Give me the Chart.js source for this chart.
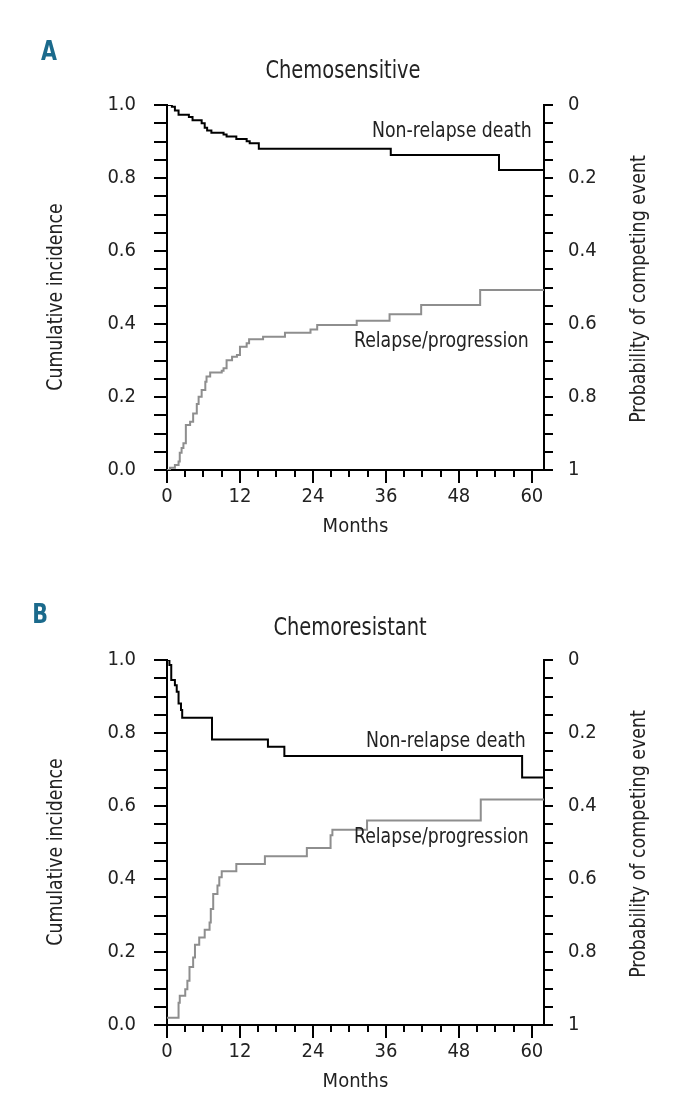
<!DOCTYPE html>
<html><head><meta charset="utf-8">
<script src="https://cdn.jsdelivr.net/npm/chart.js@4/dist/chart.umd.min.js"></script>
<style>
html,body{margin:0;padding:0;background:#fff;}
body{width:694px;height:1110px;position:relative;overflow:hidden;}
canvas{position:absolute;left:0;display:block;}
</style></head><body>
<canvas id="cA" width="694" height="555" style="top:0"></canvas>
<canvas id="cB" width="694" height="555" style="top:555px"></canvas>
<script>
// ---- tick labels ----
const monthTickLabels = [0, 12, 24, 36, 48, 60];
const leftTickLabels = ['0.0', '0.2', '0.4', '0.6', '0.8', '1.0'];
const rightTickLabels = ['0', '0.2', '0.4', '0.6', '0.8', '1'];

// ---- Panel A: Chemosensitive ----
const aDeathMonths = [0, 0.8, 1.3, 1.9, 3.6, 4.2, 5.7, 6.2, 6.6, 7.3, 9.3, 9.8, 11.4, 13.1, 13.6, 15.1, 36.8, 54.6, 62];
const aDeathProb   = [0, 0.005, 0.015, 0.027, 0.033, 0.042, 0.05, 0.062, 0.07, 0.076, 0.081, 0.086, 0.093, 0.099, 0.105, 0.12, 0.137, 0.178, 0.178];
const aRelapseMonths = [0, 0.5, 1.3, 1.9, 2.1, 2.4, 2.7, 3.1, 3.8, 4.3, 4.9, 5.2, 5.7, 6.3, 6.5, 7.1, 9.0, 9.3, 9.8, 10.7, 11.5, 12.0, 13.1, 13.5, 15.8, 19.4, 23.6, 24.7, 31.2, 36.6, 41.8, 51.5, 62];
const aRelapseInc    = [0, 0.006, 0.014, 0.023, 0.047, 0.06, 0.073, 0.123, 0.132, 0.155, 0.181, 0.201, 0.219, 0.242, 0.256, 0.267, 0.272, 0.279, 0.301, 0.31, 0.315, 0.338, 0.347, 0.358, 0.365, 0.376, 0.385, 0.397, 0.409, 0.427, 0.452, 0.493, 0.493];

// ---- Panel B: Chemoresistant ----
const bDeathMonths = [0, 0.4, 0.7, 1.3, 1.6, 1.9, 2.3, 2.5, 7.4, 16.6, 19.3, 58.4, 62];
const bDeathProb   = [0, 0.014, 0.055, 0.069, 0.087, 0.119, 0.137, 0.158, 0.218, 0.238, 0.263, 0.322, 0.322];
const bRelapseMonths = [0, 1.9, 2.1, 3.0, 3.35, 3.7, 4.3, 4.6, 5.3, 6.2, 7.0, 7.2, 7.6, 8.3, 8.6, 9.0, 11.4, 16.1, 23.0, 26.9, 27.2, 32.9, 51.6, 62];
const bRelapseInc    = [0.02, 0.061, 0.080, 0.098, 0.121, 0.159, 0.185, 0.22, 0.24, 0.261, 0.281, 0.318, 0.359, 0.382, 0.405, 0.421, 0.441, 0.462, 0.485, 0.52, 0.535, 0.56, 0.618, 0.618];

const FONT = "'DejaVu Sans Condensed','Liberation Sans Narrow',sans-serif";
const TEXT = '#222';

function drawText(ctx, text, x, y, size, sx, align, rot) {
  ctx.save();
  ctx.translate(x, y);
  if (rot) ctx.rotate(rot);
  ctx.scale(sx, 1);
  ctx.font = size + 'px ' + FONT;
  ctx.textAlign = align;
  ctx.textBaseline = 'middle';
  ctx.fillText(text, 0, 0);
  ctx.restore();
}

const decor = {
  id: 'decor',
  afterDraw(chart, args, o) {
    const ctx = chart.ctx;
    const xs = chart.scales.x, ys = chart.scales.y;
    ctx.save();
    // major x ticks (longer)
    ctx.strokeStyle = '#000'; ctx.lineWidth = 2;
    monthTickLabels.forEach(v => {
      const px = Math.round(xs.getPixelForValue(v));
      ctx.beginPath(); ctx.moveTo(px, xs.top); ctx.lineTo(px, xs.top + 13); ctx.stroke();
    });
    // panel letter
    ctx.fillStyle = '#1b6a8c';
    ctx.font = 'bold 27px ' + FONT;
    ctx.textAlign = 'center'; ctx.textBaseline = 'middle';
    ctx.save(); ctx.translate(o.letterX, o.letterY); ctx.scale(0.85, 1); ctx.fillText(o.letter, 0, 0); ctx.restore();
    ctx.fillStyle = TEXT;
    // title
    drawText(ctx, o.title, o.titleX, o.titleY, 24, 0.9, 'center', 0);
    // axis titles
    drawText(ctx, 'Cumulative incidence', 56, o.leftTitleY, 22, 0.875, 'center', -Math.PI / 2);
    drawText(ctx, 'Probability of competing event', 639, o.rightTitleY, 22, 0.88, 'center', -Math.PI / 2);
    // curve labels
    o.notes.forEach(n => {
      drawText(ctx, n.text, xs.getPixelForValue(n.x), ys.getPixelForValue(n.y), 22, 0.875, 'right', 0);
    });
    ctx.restore();
  }
};

function isMajor(v) { return Math.abs(v * 5 - Math.round(v * 5)) < 1e-6; }

function makePanel(id, deathT, deathP, relT, relI, deco) {
  const deathPts = deathT.map((t, i) => ({x: t, y: deathP[i]}));
  const relPts = relT.map((t, i) => ({x: t, y: relI[i]}));
  const tickFont = {family: FONT, size: 20};
  new Chart(document.getElementById(id), {
    type: 'line',
    data: {
      datasets: [
        {label: 'Non-relapse death', data: deathPts, yAxisID: 'y2', stepped: 'before',
         borderColor: '#000', borderWidth: 2, pointRadius: 0, fill: false},
        {label: 'Relapse/progression', data: relPts, yAxisID: 'y', stepped: 'before',
         borderColor: '#8e8e8e', borderWidth: 2, pointRadius: 0, fill: false}
      ]
    },
    options: {
      responsive: false, animation: false,
      layout: {padding: {top: 105, left: 0, right: 0, bottom: 0}},
      plugins: {legend: {display: false}, tooltip: {enabled: false}, title: {display: false}, decor: deco},
      scales: {
        x: {
          type: 'linear', position: 'bottom', min: 0, max: 62,
          ticks: {stepSize: 3, includeBounds: false, autoSkip: false, maxRotation: 0, color: TEXT, font: tickFont, padding: 8,
            callback: v => monthTickLabels.includes(v) ? String(v) : ''},
          grid: {drawOnChartArea: false, drawTicks: true, tickLength: 7, color: '#000', lineWidth: 2},
          border: {display: true, color: '#000', width: 2},
          title: {display: true, text: 'Months', color: TEXT, font: {family: FONT, size: 20}, padding: {top: 0, bottom: 16}},
          afterFit: s => { s.height = 85; }
        },
        y: {
          type: 'linear', position: 'left', min: 0, max: 1,
          ticks: {stepSize: 0.05, autoSkip: false, color: TEXT, font: tickFont, padding: 18,
            callback: v => isMajor(v) ? leftTickLabels[Math.round(v * 5)] : ''},
          grid: {drawOnChartArea: false, drawTicks: true, tickLength: 13, color: '#000', lineWidth: 2},
          border: {display: true, color: '#000', width: 2},
          afterFit: s => { s.width = 167; }
        },
        y2: {
          type: 'linear', position: 'right', min: 0, max: 1, reverse: true,
          ticks: {stepSize: 0.05, autoSkip: false, color: TEXT, font: tickFont, padding: 15,
            callback: v => isMajor(v) ? rightTickLabels[Math.round(v * 5)] : ''},
          grid: {drawOnChartArea: false, drawTicks: true, tickLength: 9, color: '#000', lineWidth: 2},
          border: {display: true, color: '#000', width: 2},
          afterFit: s => { s.width = 150; }
        }
      }
    },
    plugins: [decor]
  });
}

makePanel('cA', aDeathMonths, aDeathProb, aRelapseMonths, aRelapseInc, {
  letter: 'A', letterX: 49, letterY: 53,
  title: 'Chemosensitive', titleX: 343, titleY: 72,
  leftTitleY: 297, rightTitleY: 289,
  notes: [
    {text: 'Non-relapse death', x: 60, y: 0.929},
    {text: 'Relapse/progression', x: 59.5, y: 0.353}
  ]
});
makePanel('cB', bDeathMonths, bDeathProb, bRelapseMonths, bRelapseInc, {
  letter: 'B', letterX: 40, letterY: 61,
  title: 'Chemoresistant', titleX: 350, titleY: 74,
  leftTitleY: 297, rightTitleY: 289,
  notes: [
    {text: 'Non-relapse death', x: 59, y: 0.777},
    {text: 'Relapse/progression', x: 59.5, y: 0.515}
  ]
});
</script>
</body></html>
